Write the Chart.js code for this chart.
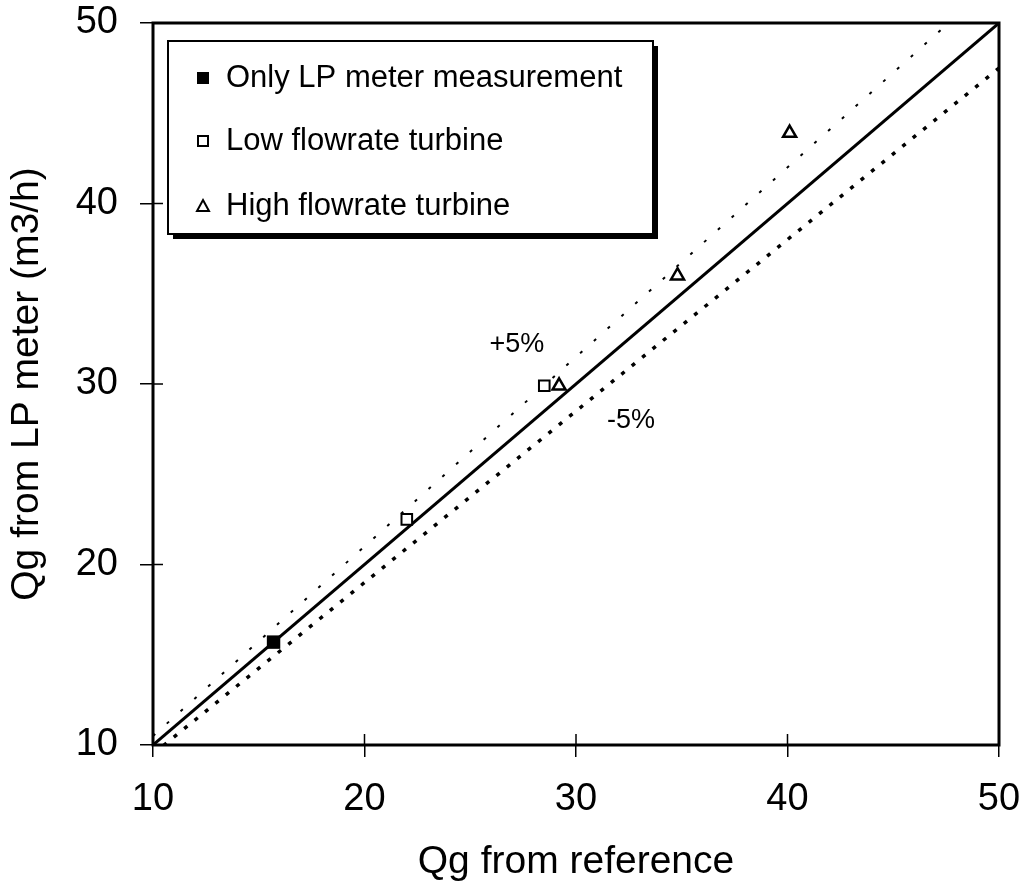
<!DOCTYPE html>
<html>
<head>
<meta charset="utf-8">
<script src="https://cdn.jsdelivr.net/npm/chart.js@4.4.1/dist/chart.umd.min.js"></script>
<style>
  html, body { margin: 0; padding: 0; background: #fff; }
  #wrap { width: 1033px; height: 890px; }
</style>
</head>
<body>
<div id="wrap"><canvas id="chart" width="1033" height="890"></canvas></div>
<script>
// axis ticks
const axisTicks = [10, 20, 30, 40, 50];

// measured points (Qg reference, Qg LP meter)
const onlyLpX = [15.7];
const onlyLpY = [15.7];
const lowX = [22.0, 28.5];
const lowY = [22.5, 29.9];
const highX = [29.2, 34.8, 40.1];
const highY = [29.9, 36.0, 43.9];

// reference lines: y = x and +/-5 %
const equalX = [10, 50];
const equalY = [10, 50];
const plusX = [10, 50];
const plusY = [10.5, 52.5];
const minusX = [10, 50];
const minusY = [9.5, 47.5];

const seriesNames = ['Only LP meter measurement', 'Low flowrate turbine', 'High flowrate turbine'];
const bandLabels = ['+5%', '-5%'];
const bandLabelX = [27.2, 32.6];
const bandLabelY = [32.2, 28.0];

const FONT = '"Liberation Sans", Arial, sans-serif';
const pts = (xs, ys) => xs.map((x, i) => ({ x: x, y: ys[i] }));

// frame + inward ticks + annotations + legend box
const decor = {
  id: 'decor',
  afterDraw(chart) {
    const ctx = chart.ctx;
    const a = chart.chartArea;
    const xs = chart.scales.x, ys = chart.scales.y;
    ctx.save();
    ctx.strokeStyle = '#000';
    ctx.lineWidth = 3;
    ctx.strokeRect(a.left, a.top, a.right - a.left, a.bottom - a.top);

    ctx.lineWidth = 1.5;
    ctx.beginPath();
    axisTicks.forEach(v => {
      const px = xs.getPixelForValue(v);
      ctx.moveTo(px, a.bottom);
      ctx.lineTo(px, a.bottom - 11);
      const py = ys.getPixelForValue(v);
      ctx.moveTo(a.left, py);
      ctx.lineTo(a.left + 10, py);
    });
    ctx.stroke();

    ctx.fillStyle = '#000';
    ctx.font = '27px ' + FONT;
    ctx.textAlign = 'center';
    ctx.textBaseline = 'middle';
    bandLabels.forEach((t, i) => {
      ctx.fillText(t, xs.getPixelForValue(bandLabelX[i]), ys.getPixelForValue(bandLabelY[i]));
    });

    // legend
    const L = 168, T = 41, R = 653, B = 234;
    ctx.fillStyle = '#000';
    ctx.fillRect(L + 5, B, R - L, 5);
    ctx.fillRect(R, T + 5, 5, B - T);
    ctx.fillStyle = '#fff';
    ctx.fillRect(L, T, R - L, B - T);
    ctx.lineWidth = 2;
    ctx.strokeStyle = '#000';
    ctx.strokeRect(L, T, R - L, B - T);

    const rows = [78, 141, 206];
    const mx = 203;
    ctx.fillStyle = '#000';
    ctx.fillRect(mx - 6, rows[0] - 6, 12, 12);
    ctx.lineWidth = 2;
    ctx.fillStyle = '#fff';
    ctx.fillRect(mx - 5, rows[1] - 5, 10, 10);
    ctx.strokeRect(mx - 5, rows[1] - 5, 10, 10);
    ctx.beginPath();
    ctx.moveTo(mx, rows[2] - 6);
    ctx.lineTo(mx + 6, rows[2] + 5);
    ctx.lineTo(mx - 6, rows[2] + 5);
    ctx.closePath();
    ctx.fill();
    ctx.stroke();

    ctx.fillStyle = '#000';
    ctx.font = '31px ' + FONT;
    ctx.textAlign = 'left';
    seriesNames.forEach((t, i) => ctx.fillText(t, 226, rows[i]));
    ctx.restore();
  }
};

new Chart(document.getElementById('chart'), {
  type: 'scatter',
  data: {
    datasets: [
      {
        label: seriesNames[0],
        data: pts(onlyLpX, onlyLpY),
        pointStyle: 'rect', pointRadius: 9.5, pointBorderWidth: 0,
        backgroundColor: '#000', borderColor: '#000'
      },
      {
        label: seriesNames[1],
        data: pts(lowX, lowY),
        pointStyle: 'rect', pointRadius: 7.5, pointBorderWidth: 2,
        backgroundColor: '#fff', borderColor: '#000'
      },
      {
        label: seriesNames[2],
        data: pts(highX, highY),
        pointStyle: 'triangle', pointRadius: 7.5, pointBorderWidth: 2.5,
        backgroundColor: '#fff', borderColor: '#000'
      },
      {
        label: 'y = x', type: 'line',
        data: pts(equalX, equalY),
        borderColor: '#000', borderWidth: 3, pointRadius: 0, fill: false
      },
      {
        label: '+5%', type: 'line',
        data: pts(plusX, plusY),
        borderColor: '#000', borderWidth: 2, borderDash: [3, 15.5], pointRadius: 0, fill: false
      },
      {
        label: '-5%', type: 'line',
        data: pts(minusX, minusY),
        borderColor: '#000', borderWidth: 3.5, borderDash: [4, 9.4], pointRadius: 0, fill: false
      }
    ]
  },
  options: {
    responsive: false,
    animation: false,
    layout: { padding: { left: 0, top: 23, right: 34, bottom: 0 } },
    plugins: { legend: { display: false }, tooltip: { enabled: false } },
    scales: {
      x: {
        type: 'linear', min: 10, max: 50,
        afterFit(s) { s.height = 145; s.paddingLeft = 0; s.paddingRight = 0; },
        border: { display: false },
        grid: { drawOnChartArea: false, tickLength: 12, color: '#000', tickColor: '#000', lineWidth: 1.5 },
        ticks: { stepSize: 10, color: '#000', padding: 20, font: { family: FONT, size: 38 } },
        title: {
          display: true, text: 'Qg from reference', color: '#000',
          font: { family: FONT, size: 39 }, padding: { top: 4, bottom: 4 }
        }
      },
      y: {
        type: 'linear', min: 10, max: 50,
        afterFit(s) { s.width = 153; s.paddingTop = 0; s.paddingBottom = 0; },
        border: { display: false },
        grid: { drawOnChartArea: false, tickLength: 13, color: '#000', tickColor: '#000', lineWidth: 1.5 },
        ticks: { stepSize: 10, color: '#000', padding: 22, font: { family: FONT, size: 38 } },
        title: {
          display: true, text: 'Qg from LP meter (m3/h)', color: '#000',
          font: { family: FONT, size: 39 }, padding: { top: 4, bottom: 4 }
        }
      }
    }
  },
  plugins: [decor]
});
</script>
</body>
</html>
